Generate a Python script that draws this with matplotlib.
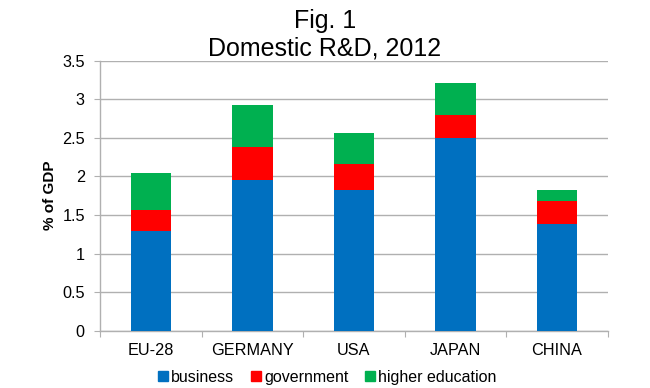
import matplotlib
matplotlib.use("Agg")
import matplotlib.pyplot as plt
import numpy as np
from matplotlib.lines import Line2D

plt.rcParams['font.family'] = ['Liberation Sans', 'DejaVu Sans']

categories = ["EU-28", "GERMANY", "USA", "JAPAN", "CHINA"]
business = [1.30, 1.95, 1.83, 2.50, 1.39]
government = [0.27, 0.43, 0.33, 0.29, 0.29]
higher_education = [0.47, 0.54, 0.40, 0.42, 0.15]
series_names = ["business", "government", "higher education"]
colors = ["#0070C0", "#FF0000", "#00B050"]

fig = plt.figure(figsize=(6.5, 3.88), dpi=100)
ax = fig.add_axes([0.154, 0.147, 0.781, 0.697])

x = np.arange(len(categories))
w = 0.4
b = np.array(business)
g = np.array(government)
h = np.array(higher_education)
ax.bar(x, b, w, color=colors[0], zorder=3)
ax.bar(x, g, w, bottom=b, color=colors[1], zorder=3)
ax.bar(x, h, w, bottom=b + g, color=colors[2], zorder=3)

ax.set_xlim(-0.5, len(categories) - 0.5)
ax.set_ylim(0, 3.5)
yt = np.arange(0, 3.51, 0.5)
ax.set_yticks(yt)
ax.set_yticklabels([f"{v:g}" for v in yt], fontsize=11.7)
ax.yaxis.grid(True, color="#B0B0B0", linewidth=1.0, zorder=0)
ax.set_axisbelow(True)

ax.set_xticks(np.arange(-0.5, len(categories), 1.0))
ax.set_xticklabels([])
ax.set_xticks(x, minor=True)
ax.set_xticklabels(categories, minor=True, fontsize=11.7)
ax.tick_params(axis='x', which='minor', length=0, pad=9)
ax.tick_params(axis='x', which='major', length=4, color="#B0B0B0", direction='out')
ax.tick_params(axis='y', length=4, color="#B0B0B0", pad=7)

for s in ["top", "right"]:
    ax.spines[s].set_visible(False)
for s in ["left", "bottom"]:
    ax.spines[s].set_color("#B0B0B0")
    ax.spines[s].set_linewidth(1.0)

ax.set_ylabel("% of GDP", fontsize=11, fontweight="bold", labelpad=4)

fig.text(0.5, 0.945, "Fig. 1", ha="center", va="center", fontsize=18)
fig.text(0.5, 0.875, "Domestic R&D, 2012", ha="center", va="center", fontsize=18)

handles = [Line2D([], [], marker="s", linestyle="none", markersize=7,
                  markerfacecolor=c, markeredgecolor=c) for c in colors]
fig.legend(handles, series_names, loc="center", bbox_to_anchor=(0.502, 0.028),
           ncol=3, frameon=False, fontsize=11.5, handletextpad=0.05,
           columnspacing=0.9, handlelength=0.9)

fig.savefig("out.png", dpi=100)
